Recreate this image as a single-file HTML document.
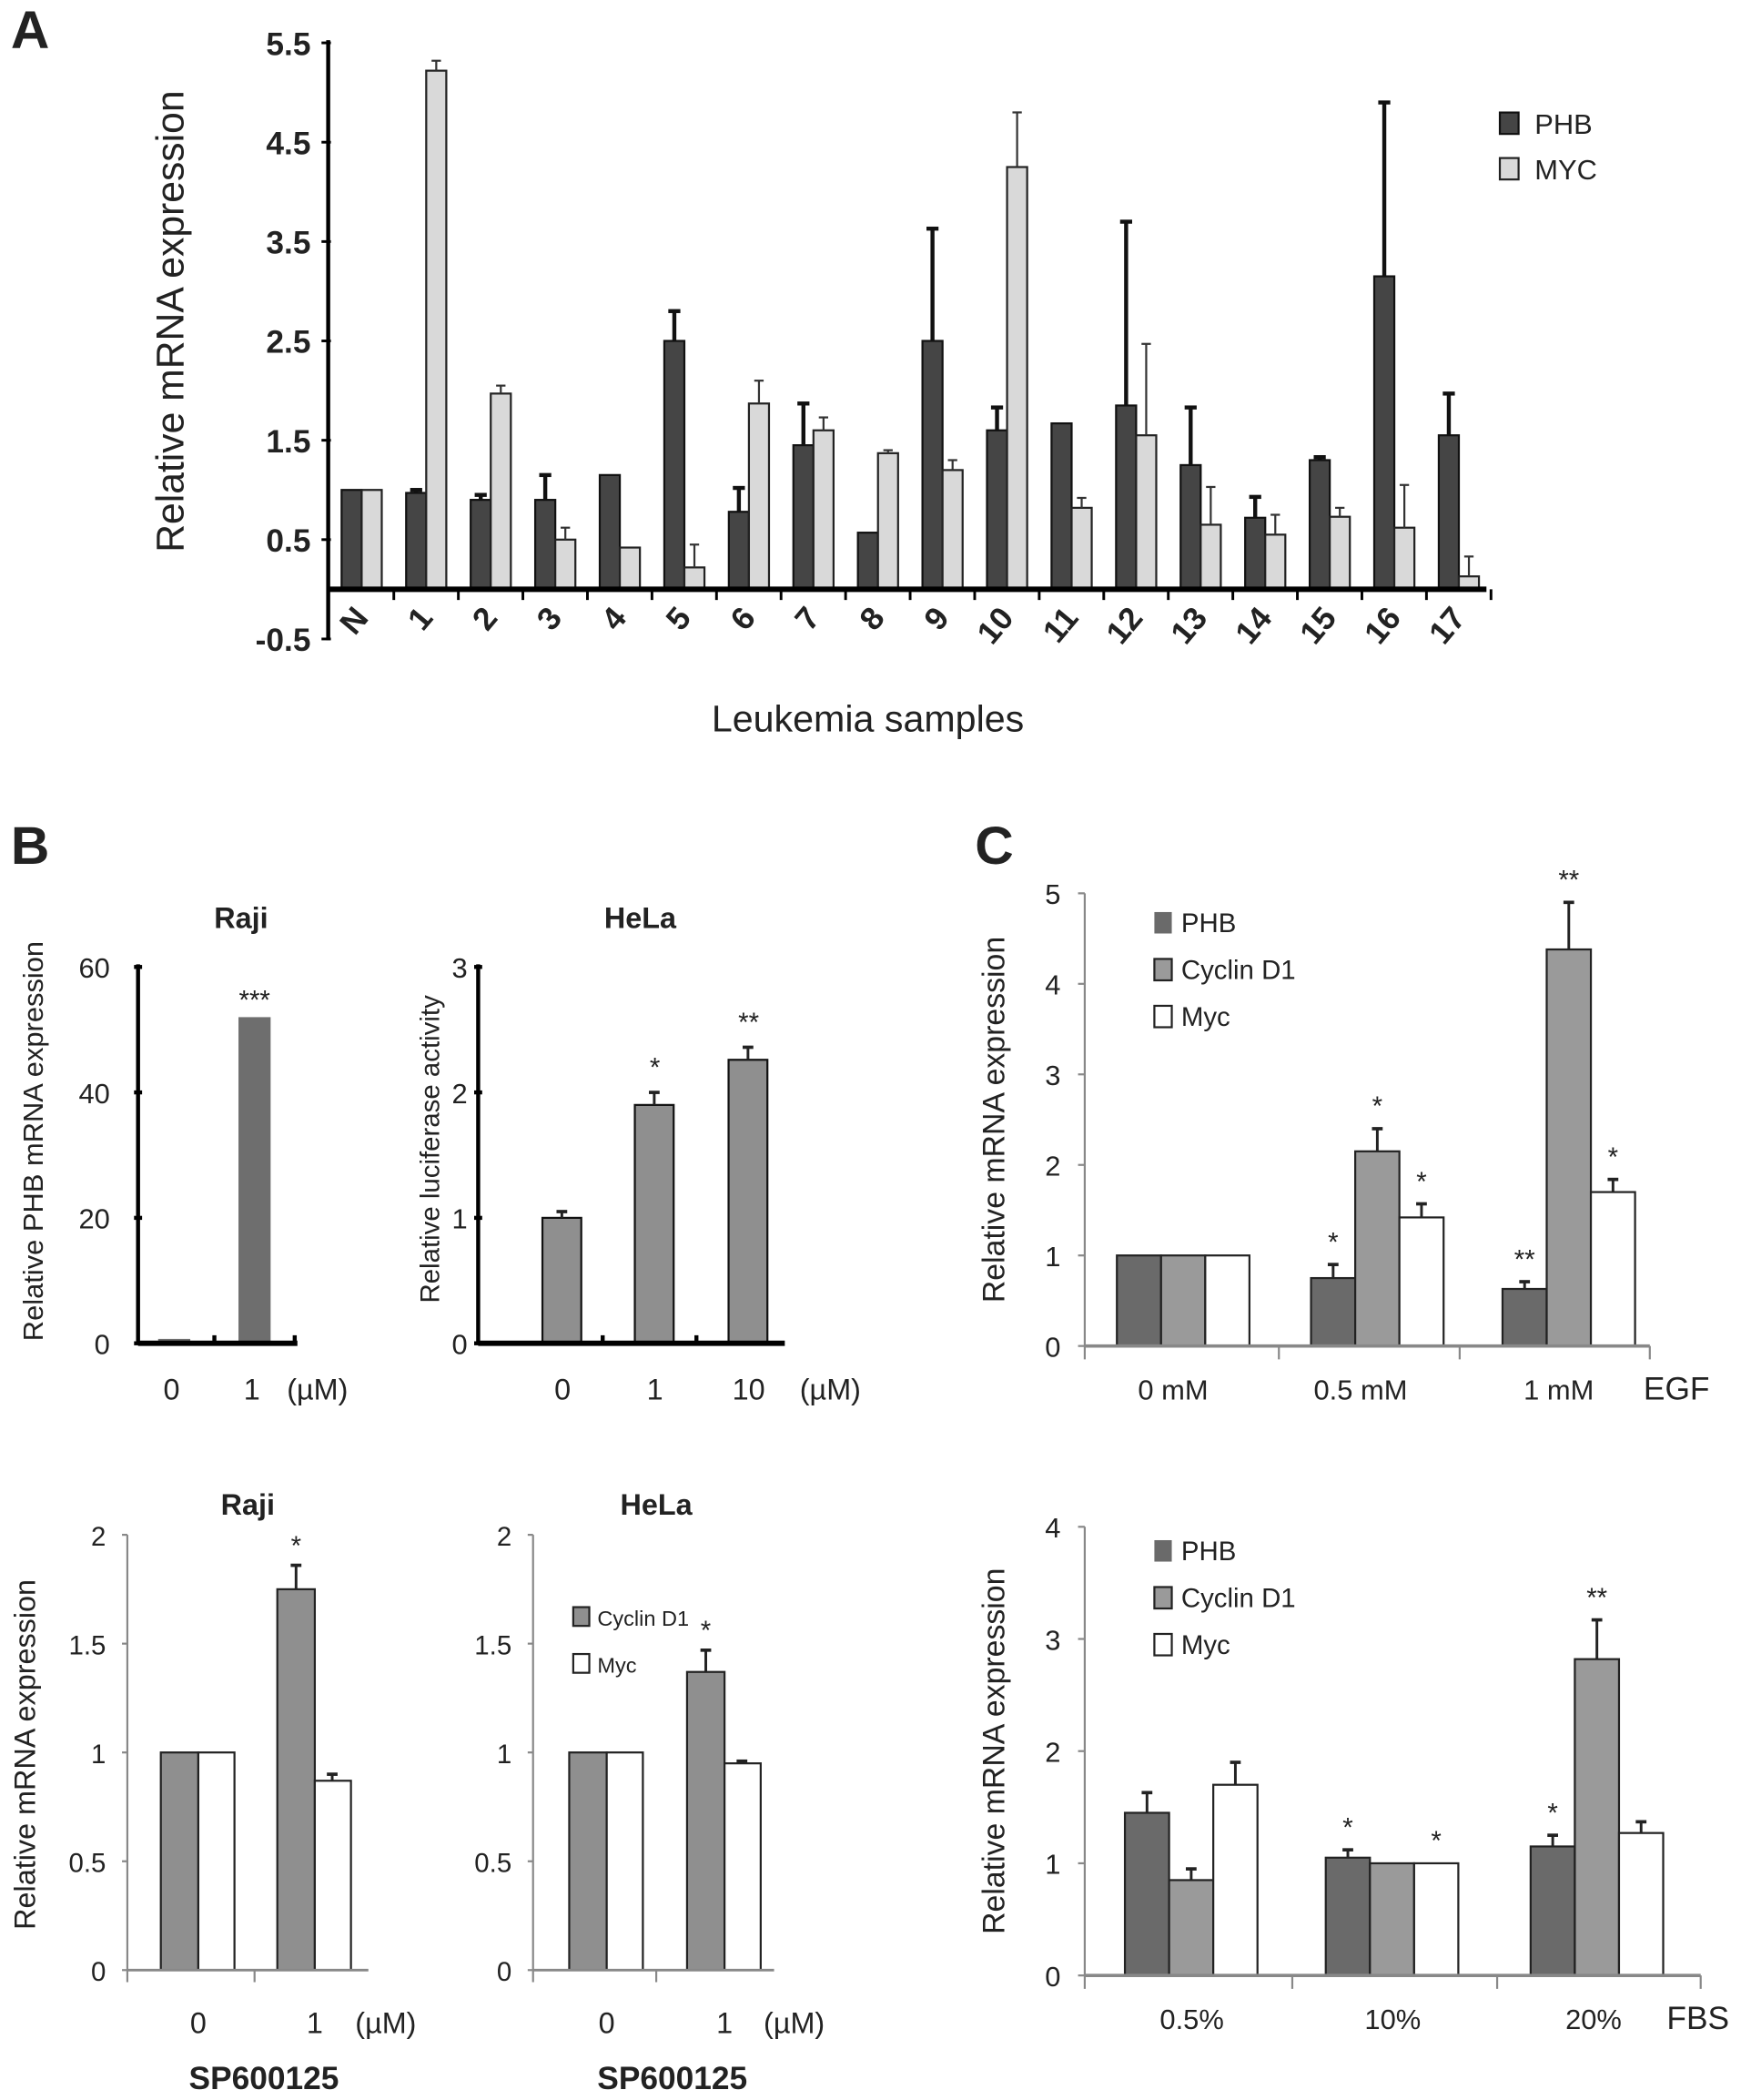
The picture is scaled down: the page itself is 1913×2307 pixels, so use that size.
<!DOCTYPE html>
<html><head><meta charset="utf-8"><style>
html,body{margin:0;padding:0;background:#fff;}
svg{display:block;}
text{font-family:"Liberation Sans",Arial,sans-serif;fill:#222;}
</style></head><body>
<svg id="fig" width="1913" height="2307" viewBox="0 0 1300 1568" xmlns="http://www.w3.org/2000/svg">
<rect width="1300" height="1568" fill="#fff"/>
<g id="layer"></g>
</svg>
<script>
// ---- Panel A data ----
const aCats = ["N","1","2","3","4","5","6","7","8","9","10","11","12","13","14","15","16","17"];
const aPHB = [1.0,0.97,0.9,0.9,1.15,2.5,0.78,1.45,0.57,2.5,1.6,1.67,1.85,1.25,0.72,1.3,3.15,1.55];
const aPHBerr = [0,0.03,0.05,0.25,0,0.3,0.24,0.42,0,1.13,0.23,0,1.85,0.58,0.21,0.03,1.75,0.42];
const aMYC = [1.0,5.22,1.97,0.5,0.42,0.22,1.87,1.6,1.37,1.2,4.25,0.82,1.55,0.65,0.55,0.73,0.62,0.13];
const aMYCerr = [0,0.1,0.08,0.12,0,0.23,0.23,0.13,0.03,0.1,0.55,0.1,0.92,0.38,0.2,0.09,0.43,0.2];
const aTicks = [5.5,4.5,3.5,2.5,1.5,0.5,-0.5];
// ---- Panel B top ----
const bRajiCats = ["0","1"];
const bRajiVals = [0.7,52];
const bRajiTicks = [0,20,40,60];
const bHelaCats = ["0","1","10"];
const bHelaVals = [1.0,1.9,2.26];
const bHelaErr = [0.05,0.1,0.1];
const bHelaStars = ["","*","**"];
const bHelaTicks = [0,1,2,3];
// ---- Panel B bottom ----
const b2Cats = ["0","1"];
const b2RajiCyc = [1.0,1.75];
const b2RajiCycErr = [0,0.11];
const b2RajiMyc = [1.0,0.87];
const b2RajiMycErr = [0,0.03];
const b2HelaCyc = [1.0,1.37];
const b2HelaCycErr = [0,0.1];
const b2HelaMyc = [1.0,0.95];
const b2HelaMycErr = [0,0.01];
const b2Ticks = [0,0.5,1,1.5,2];
// ---- Panel C top (EGF) ----
const cEgfCats = ["0 mM","0.5 mM","1 mM"];
const cEgfPHB = [1.0,0.75,0.63];
const cEgfPHBerr = [0,0.15,0.08];
const cEgfCyc = [1.0,2.15,4.38];
const cEgfCycErr = [0,0.25,0.52];
const cEgfMyc = [1.0,1.42,1.7];
const cEgfMycErr = [0,0.15,0.14];
const cEgfStars = [["","",""],["*","*","*"],["**","**","*"]];
const cEgfTicks = [0,1,2,3,4,5];
// ---- Panel C bottom (FBS) ----
const cFbsCats = ["0.5%","10%","20%"];
const cFbsPHB = [1.45,1.05,1.15];
const cFbsPHBerr = [0.18,0.07,0.1];
const cFbsCyc = [0.85,1.0,2.82];
const cFbsCycErr = [0.1,0,0.35];
const cFbsMyc = [1.7,1.0,1.27];
const cFbsMycErr = [0.2,0,0.1];
const cFbsStars = [["","",""],["*","","*"],["*","**",""]];
const cFbsTicks = [0,1,2,3,4];

const NS="http://www.w3.org/2000/svg";
const layer=document.getElementById('layer');
function el(tag,attrs,parent){const e=document.createElementNS(NS,tag);for(const k in attrs)e.setAttribute(k,attrs[k]);(parent||layer).appendChild(e);return e;}
function txt(s,x,y,size,opts,parent){const t=el('text',Object.assign({x:x,y:y,'font-size':size},opts||{}),parent);t.textContent=s;return t;}
function scale(y0px,y1px,v0,v1){return v=>y0px+(v-v0)*(y1px-y0px)/(v1-v0);}

// ===== Panel A =====
(function(){
  const g=el('g',{});
  
  
  const y=scale(440,32,0,5.5);
  const cx=i=>270+48.2*i;
  const t=txt('A',8,36,40,{'font-weight':'bold',fill:'#111'},g);
  
  aTicks.forEach(v=>{
    const l=txt(v.toFixed(1),232,y(v)+9,24,{'text-anchor':'end','font-weight':'bold',fill:'#222'},g);
    
    el('line',{x1:240,x2:247,y1:y(v),y2:y(v),stroke:'#000','stroke-width':2},g);
  });
  aCats.forEach((c,i)=>{
    const x=cx(i);
    const b1=el('rect',{x:x-15,y:y(aPHB[i]),width:15,height:y(0)-y(aPHB[i]),fill:'#454545',stroke:'#111','stroke-width':1.5},g);
    
    if(aPHBerr[i]>0){el('line',{x1:x-7.5,x2:x-7.5,y1:y(aPHB[i]),y2:y(aPHB[i]+aPHBerr[i]),stroke:'#111','stroke-width':3},g);
      el('line',{x1:x-12,x2:x-3,y1:y(aPHB[i]+aPHBerr[i]),y2:y(aPHB[i]+aPHBerr[i]),stroke:'#111','stroke-width':3},g);}
    const b2=el('rect',{x:x,y:y(aMYC[i]),width:15,height:y(0)-y(aMYC[i]),fill:'#d9d9d9',stroke:'#222','stroke-width':1.5},g);
    
    if(aMYCerr[i]>0){el('line',{x1:x+7.5,x2:x+7.5,y1:y(aMYC[i]),y2:y(aMYC[i]+aMYCerr[i]),stroke:'#333','stroke-width':1.5},g);
      el('line',{x1:x+4,x2:x+11,y1:y(aMYC[i]+aMYCerr[i]),y2:y(aMYC[i]+aMYCerr[i]),stroke:'#333','stroke-width':1.5},g);}
    el('line',{x1:x+24,x2:x+24,y1:440,y2:448,stroke:'#000','stroke-width':2},g);
    const l=txt(c,0,0,24,{'text-anchor':'end','font-weight':'bold',transform:`translate(${x+6},${462}) rotate(-50)`},g);
    
  });
  el('line',{x1:245,x2:245,y1:30,y2:478,stroke:'#000','stroke-width':3},g);
  el('line',{x1:245,x2:1110,y1:440,y2:440,stroke:'#000','stroke-width':4},g);
  const yt=txt('Relative mRNA expression',0,0,29,{'text-anchor':'middle',transform:'translate(137,240) rotate(-90)'},g);
  
  const xt=txt('Leukemia samples',648,546,28,{'text-anchor':'middle'},g);
  
  const lg=el('g',{},g);
  el('rect',{x:1120,y:84,width:14,height:16,fill:'#454545',stroke:'#111','stroke-width':1.5},lg);
  txt('PHB',1146,100,21,{},lg);
  el('rect',{x:1120,y:118,width:14,height:16,fill:'#d9d9d9',stroke:'#222','stroke-width':1.5},lg);
  txt('MYC',1146,134,21,{},lg);
})();

txt('B',8,645,40,{'font-weight':'bold',fill:'#111'});
txt('C',728,645,40,{'font-weight':'bold',fill:'#111'});

function axis(g,ax,y0,ytop,ticks,fmt,xEnd,tickXs,thick,fs){
  const col=thick?'#000':'#888';const w=thick?3:2;
  el('line',{x1:ax,x2:ax,y1:ytop,y2:y0,stroke:col,'stroke-width':w},g);
  el('line',{x1:ax,x2:xEnd,y1:y0,y2:y0,stroke:col,'stroke-width':thick?4:2},g);
  tickXs.forEach(tx=>el('line',{x1:tx,x2:tx,y1:y0,y2:y0+(thick?-6:10),stroke:col,'stroke-width':w},g));
}
function errbar(g,x,yv,yt){el('line',{x1:x,x2:x,y1:yv,y2:yt,stroke:'#222','stroke-width':2},g);el('line',{x1:x-4,x2:x+4,y1:yt,y2:yt,stroke:'#222','stroke-width':2.5},g);}

// ===== B top Raji =====
(function(){
  const g=el('g',{});
  const y=scale(1003,722,0,60);
  bRajiTicks.forEach(v=>{const l=txt(String(v),82,y(v)+8,21,{'text-anchor':'end'},g);
    el('line',{x1:100,x2:106,y1:y(v),y2:y(v),stroke:'#000','stroke-width':3},g);});
  const xs=[118,178];
  bRajiCats.forEach((c,i)=>{const b=el('rect',{x:xs[i],y:y(bRajiVals[i]),width:24,height:1003-y(bRajiVals[i]),fill:'#6e6e6e'},g);
    
    const l=txt(c,xs[i]+10,1045,22,{'text-anchor':'middle'},g);});
  txt('(µM)',237,1045,22,{'text-anchor':'middle'},g);
  txt('***',190,y(bRajiVals[1])-6,20,{'text-anchor':'middle'},g);
  axis(g,103,1003,720,[],null,222,[160,220],true);
  txt('Raji',180,693,22,{'text-anchor':'middle','font-weight':'bold'},g);
  txt('Relative PHB mRNA expression',0,0,21,{'text-anchor':'middle',transform:'translate(32,852) rotate(-90)'},g);
})();

// ===== B top HeLa =====
(function(){
  const g=el('g',{});
  const y=scale(1003,722,0,3);
  bHelaTicks.forEach(v=>{const l=txt(String(v),349,y(v)+8,21,{'text-anchor':'end'},g);
    el('line',{x1:354,x2:360,y1:y(v),y2:y(v),stroke:'#000','stroke-width':3},g);});
  const xs=[405,474,544];
  bHelaCats.forEach((c,i)=>{const b=el('rect',{x:xs[i],y:y(bHelaVals[i]),width:29,height:1003-y(bHelaVals[i]),fill:'#8f8f8f',stroke:'#111','stroke-width':1.5},g);
    
    errbar(g,xs[i]+14.5,y(bHelaVals[i]),y(bHelaVals[i]+bHelaErr[i]));
    if(bHelaStars[i])txt(bHelaStars[i],xs[i]+15,y(bHelaVals[i]+bHelaErr[i])-12,20,{'text-anchor':'middle'},g);
    const l=txt(c,xs[i]+15,1045,22,{'text-anchor':'middle'},g);});
  txt('(µM)',620,1045,22,{'text-anchor':'middle'},g);
  axis(g,357,1003,720,[],null,586,[450,520],true);
  txt('HeLa',478,693,22,{'text-anchor':'middle','font-weight':'bold'},g);
  txt('Relative luciferase activity',0,0,20,{'text-anchor':'middle',transform:'translate(328,858) rotate(-90)'},g);
})();

// ===== B bottom =====
function bBottom(name,ax,title,cyc,cycErr,myc,mycErr,starX,xs,xEnd,tickX,labX,legend){
  const g=el('g',{});
  const y=scale(1471,1146,0,2);
  b2Ticks.forEach(v=>{const l=txt(String(v),ax-16,y(v)+8,20,{'text-anchor':'end',fill:'#333'},g);
    el('line',{x1:ax-4,x2:ax,y1:y(v),y2:y(v),stroke:'#888','stroke-width':1.5},g);});
  b2Cats.forEach((c,i)=>{
    const b=el('rect',{x:xs[i],y:y(cyc[i]),width:28,height:1471-y(cyc[i]),fill:'#8f8f8f',stroke:'#222','stroke-width':1.5},g);
    
    if(cycErr[i]>0)errbar(g,xs[i]+14,y(cyc[i]),y(cyc[i]+cycErr[i]));
    const m=el('rect',{x:xs[i]+28,y:y(myc[i]),width:27,height:1471-y(myc[i]),fill:'#fff',stroke:'#222','stroke-width':1.5},g);
    
    if(mycErr[i]>0)errbar(g,xs[i]+41,y(myc[i]),y(myc[i]+mycErr[i]));
    const l=txt(c,xs[i]+28,1518,22,{'text-anchor':'middle'},g);
  });
  txt('*',xs[1]+14,y(cyc[1]+cycErr[1])-8,20,{'text-anchor':'middle'},g);
  txt('(µM)',labX,1518,22,{'text-anchor':'middle'},g);
  txt('SP600125',xs[0]+77,1560,24,{'text-anchor':'middle','font-weight':'bold'},g);
  el('line',{x1:ax,x2:ax,y1:1146,y2:1471,stroke:'#888','stroke-width':1.5},g);
  el('line',{x1:ax,x2:xEnd,y1:1471,y2:1471,stroke:'#888','stroke-width':2},g);
  el('line',{x1:tickX,x2:tickX,y1:1471,y2:1480,stroke:'#888','stroke-width':1.5},g);
  el('line',{x1:ax,x2:ax,y1:1471,y2:1480,stroke:'#888','stroke-width':1.5},g);
  txt(title,xs[0]+65,1131,22,{'text-anchor':'middle','font-weight':'bold'},g);
  if(legend){const lg=el('g',{},g);
    el('rect',{x:428,y:1200,width:12,height:14,fill:'#8f8f8f',stroke:'#222','stroke-width':1.5},lg);txt('Cyclin D1',446,1214,16,{},lg);
    el('rect',{x:428,y:1235,width:12,height:14,fill:'#fff',stroke:'#222','stroke-width':1.5},lg);txt('Myc',446,1249,16,{},lg);}
  return g;
}
bBottom('raji-sp600125-chart',95,'Raji',b2RajiCyc,b2RajiCycErr,b2RajiMyc,b2RajiMycErr,0,[120,207],275,190,288,false);
bBottom('hela-sp600125-chart',398,'HeLa',b2HelaCyc,b2HelaCycErr,b2HelaMyc,b2HelaMycErr,0,[425,513],578,490,593,true);
txt('Relative mRNA expression',0,0,22,{'text-anchor':'middle',transform:'translate(26,1310) rotate(-90)'});

// ===== Panel C =====
function cChart(name,y0,ytopPx,tmax,ticks,cats,phb,phbE,cyc,cycE,myc,mycE,stars,gx,tickXs,labXs,suffix,legY){
  const g=el('g',{});
  const y=scale(y0,ytopPx,0,tmax);
  ticks.forEach(v=>{const l=txt(String(v),792,y(v)+8,21,{'text-anchor':'end',fill:'#333'},g);
    el('line',{x1:805,x2:810,y1:y(v),y2:y(v),stroke:'#888','stroke-width':1.5},g);});
  const series=[[phb,phbE,'#6a6a6a','phb'],[cyc,cycE,'#9a9a9a','cyclin-d1'],[myc,mycE,'#fff','myc']];
  cats.forEach((c,i)=>{
    series.forEach((s,k)=>{
      const x=gx[i]+k*33;const v=s[0][i];
      const b=el('rect',{x:x,y:y(v),width:33,height:y0-y(v),fill:s[2],stroke:'#222','stroke-width':1.5},g);
      
      if(s[1][i]>0)errbar(g,x+16.5,y(v),y(v+s[1][i]));
      if(stars[i][k])txt(stars[i][k],x+16.5,y(v+s[1][i])-10,20,{'text-anchor':'middle'},g);
    });
    const l=txt(c,labXs[i],y0+40,21,{'text-anchor':'middle'},g);
  });
  txt(suffix,labXs[3],y0+40,24,{'text-anchor':'middle'},g);
  el('line',{x1:810,x2:810,y1:ytopPx,y2:y0,stroke:'#888','stroke-width':1.5},g);
  el('line',{x1:810,x2:tickXs[tickXs.length-1],y1:y0,y2:y0,stroke:'#888','stroke-width':2.5},g);
  tickXs.forEach(t=>el('line',{x1:t,x2:t,y1:y0,y2:y0+10,stroke:'#888','stroke-width':1.5},g));
  const lg=el('g',{},g);
  [['PHB','#6a6a6a'],['Cyclin D1','#9a9a9a'],['Myc','#fff']].forEach((e,k)=>{
    el('rect',{x:862,y:legY+k*35-15,width:13,height:16,fill:e[1],stroke:k?'#222':'none','stroke-width':1.5},lg);
    txt(e[0],882,legY+k*35,20,{},lg);
  });
  txt('Relative mRNA expression',0,0,23,{'text-anchor':'middle',transform:`translate(750,${(y0+ytopPx)/2}) rotate(-90)`},g);
}
cChart('egf-chart',1005,667,5,cEgfTicks,cEgfCats,cEgfPHB,cEgfPHBerr,cEgfCyc,cEgfCycErr,cEgfMyc,cEgfMycErr,cEgfStars,[834,979,1122],[810,955,1090,1232],[876,1016,1164,1252],'EGF',696);
cChart('fbs-chart',1475,1140,4,cFbsTicks,cFbsCats,cFbsPHB,cFbsPHBerr,cFbsCyc,cFbsCycErr,cFbsMyc,cFbsMycErr,cFbsStars,[840,990,1143],[810,965,1118,1270],[890,1040,1190,1268],'FBS',1165);
</script>
</body></html>
